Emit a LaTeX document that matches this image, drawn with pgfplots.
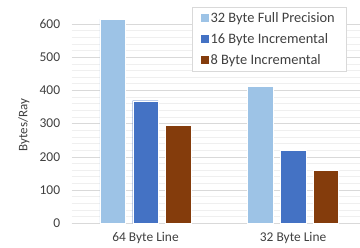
\documentclass[border=0pt]{standalone}
\usepackage{pgfplots}
\pgfplotsset{compat=1.18}
\usepackage{fontspec}
\setmainfont{Carlito}
\definecolor{cLight}{HTML}{9DC3E6}
\definecolor{cBlue}{HTML}{4472C4}
\definecolor{cBrown}{HTML}{843C0C}
\definecolor{cGrid}{HTML}{D9D9D9}
\definecolor{cMinor}{HTML}{EFEFEF}
\definecolor{cText}{HTML}{404040}
\newcommand{\lf}{\fontsize{14.4}{16}\selectfont}
\begin{document}
\begin{tikzpicture}[x=1pt,y=1pt]
\begin{axis}[
  at={(71.7pt,24.7pt)}, anchor=south west,
  scale only axis, width=295.2pt, height=212.6pt,
  ybar=7.3pt, bar width=25.5pt,
  xmin=-0.5, xmax=1.5, ymin=0, ymax=640,
  xtick={0,1}, xticklabels={64 Byte Line,32 Byte Line},
  major x tick style={draw=none},
  extra x ticks={-0.5,0.5,1.5}, extra x tick labels={},
  extra x tick style={major tick length=4pt, tick align=outside, tick style={draw=cGrid}, grid=none},
  ytick={0,100,...,600},
  minor y tick num=4,
  ymajorgrids, yminorgrids,
  major grid style={draw=cGrid, line width=0.6pt},
  minor grid style={draw=cMinor, line width=0.6pt},
  y tick style={draw=none},
  axis x line*=bottom, axis y line*=left,
  x axis line style={draw=cGrid, line width=0.6pt, -},
  y axis line style={draw=none},
  ylabel={Bytes/Ray},
  ylabel style={font=\fontsize{13}{14}\selectfont, text=cText, at={(axis description cs:-0.162,0.462)}, anchor=center},
  yticklabel style={font=\fontsize{13.5}{14}\selectfont, text=cText, xshift=-8pt},
  xticklabel style={font=\fontsize{13.4}{15}\selectfont, text=cText, yshift=-1pt},
  /pgf/number format/assume math mode=true,
  legend style={at={(rel axis cs:0.4065,1.019)}, anchor=north west, draw=cGrid, fill=white,
    font=\lf, text=cText, row sep=5.5pt, inner xsep=9pt, inner ysep=3.5pt},
  legend cell align=left,
  legend image code/.code={\fill[#1, draw=none] (0pt,-4pt) rectangle (7.7pt,4pt);},
  clip=false,
]
\addplot[fill=cLight, draw=white] coordinates {(0,615) (1,413)};
\addplot[fill=cBlue, draw=white] coordinates {(0,369) (1,220)};
\addplot[fill=cBrown, draw=white] coordinates {(0,295) (1,160)};
\legend{{\lf 32 Byte Full Precision},{\lf 16 Byte Incremental},{\lf 8 Byte Incremental}}
\end{axis}
\pgfresetboundingbox
\useasboundingbox (0,0) rectangle (360,248);
\end{tikzpicture}
\end{document}
